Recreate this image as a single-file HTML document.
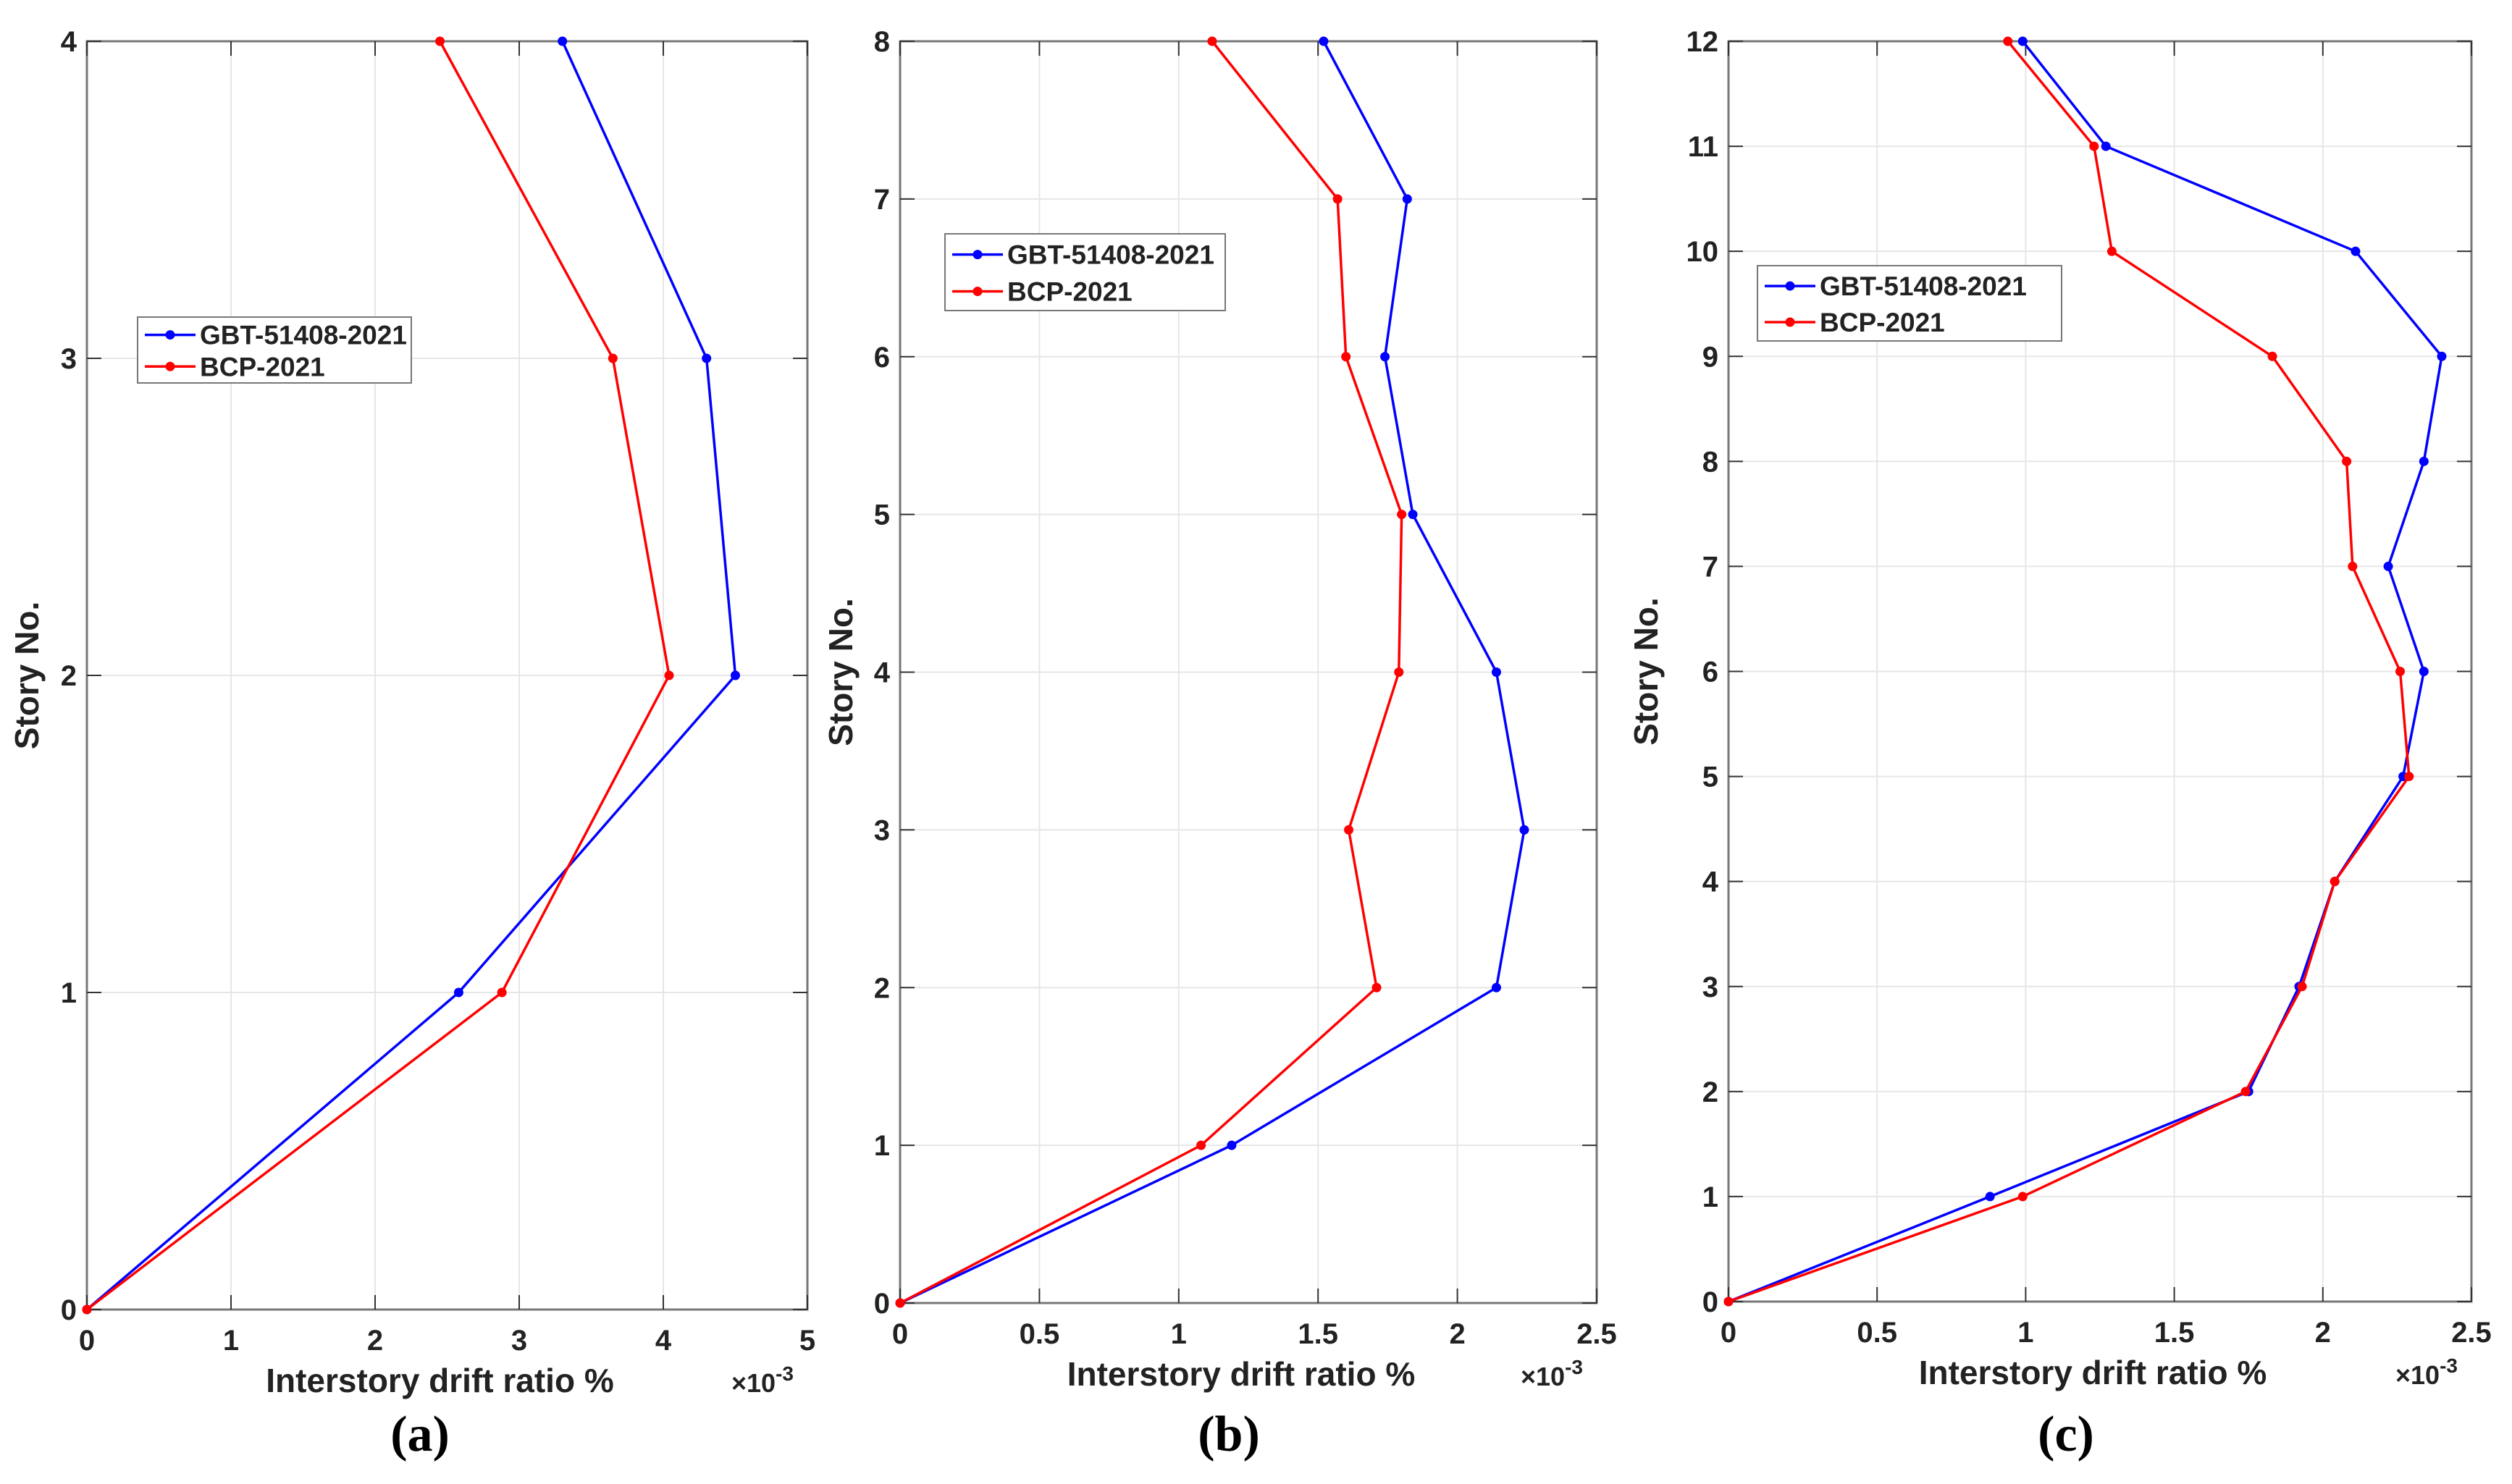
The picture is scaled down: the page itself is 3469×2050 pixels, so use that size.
<!DOCTYPE html>
<html><head><meta charset="utf-8"><style>
html,body{margin:0;padding:0;background:#fff;}
svg{display:block;}
text{font-family:"Liberation Sans",Arial,sans-serif;font-weight:bold;fill:#222;}
.cap{font-family:"Liberation Serif",serif;font-weight:bold;fill:#000;}
</style></head><body>
<svg id="fig" width="3469" height="2050" viewBox="0 0 3469 2050" xmlns="http://www.w3.org/2000/svg"></svg>
<script>
const storiesA=[0,1,2,3,4];
const gbtA=[0,2.58,4.5,4.3,3.3];
const bcpA=[0,2.88,4.04,3.65,2.45];
const xTicksA=[0,1,2,3,4,5];
const storiesB=[0,1,2,3,4,5,6,7,8];
const gbtB=[0,1.19,2.14,2.24,2.14,1.84,1.74,1.82,1.52];
const bcpB=[0,1.08,1.71,1.61,1.79,1.80,1.60,1.57,1.12];
const xTicksB=[0,0.5,1,1.5,2,2.5];
const storiesC=[0,1,2,3,4,5,6,7,8,9,10,11,12];
const gbtC=[0,0.88,1.75,1.92,2.04,2.27,2.34,2.22,2.34,2.40,2.11,1.27,0.99];
const bcpC=[0,0.99,1.74,1.93,2.04,2.29,2.26,2.10,2.08,1.83,1.29,1.23,0.94];
const xTicksC=[0,0.5,1,1.5,2,2.5];
const seriesNames=["GBT-51408-2021","BCP-2021"];

const NS="http://www.w3.org/2000/svg";
const svg=document.getElementById('fig');
function mk(tag,attrs,parent){const e=document.createElementNS(NS,tag);for(const k in attrs)e.setAttribute(k,attrs[k]);(parent||svg).appendChild(e);return e;}

function panel(id,box,xTicks,stories,gbt,bcp,legend,ylabX,cap){
  const g=mk('g',{});
  
  
  const xmax=xTicks[xTicks.length-1], ymax=stories[stories.length-1];
  const sx=v=>box.x0+(v/xmax)*(box.x1-box.x0);
  const sy=v=>box.y0-(v/ymax)*(box.y0-box.y1);
  xTicks.forEach(t=>{const l=mk('line',{x1:sx(t),x2:sx(t),y1:box.y1,y2:box.y0,stroke:'#e6e6e6','stroke-width':2},g);
    });
  stories.forEach(t=>{const l=mk('line',{x1:box.x0,x2:box.x1,y1:sy(t),y2:sy(t),stroke:'#e6e6e6','stroke-width':2},g);
    });
  const fr=mk('rect',{x:box.x0,y:box.y1,width:box.x1-box.x0,height:box.y0-box.y1,fill:'none',stroke:'#777','stroke-width':3},g);
  
  xTicks.forEach(t=>{
    mk('line',{x1:sx(t),x2:sx(t),y1:box.y0,y2:box.y0-20,stroke:'#333','stroke-width':2},g);
    mk('line',{x1:sx(t),x2:sx(t),y1:box.y1,y2:box.y1+20,stroke:'#333','stroke-width':2},g);
    const tx=mk('text',{x:sx(t),y:box.y0+56,'text-anchor':'middle','font-size':40},g);tx.textContent=t;
    });
  stories.forEach(t=>{
    mk('line',{x1:box.x0,x2:box.x0+20,y1:sy(t),y2:sy(t),stroke:'#333','stroke-width':2},g);
    mk('line',{x1:box.x1,x2:box.x1-20,y1:sy(t),y2:sy(t),stroke:'#333','stroke-width':2},g);
    const tx=mk('text',{x:box.x0-14,y:sy(t)+14,'text-anchor':'end','font-size':40},g);tx.textContent=t;
    });
  [[gbt,'#0000ff','gbt'],[bcp,'#ff0000','bcp']].forEach(([vals,c,n])=>{
    const pts=vals.map((v,i)=>sx(v)+','+sy(stories[i])).join(' ');
    const pl=mk('polyline',{points:pts,fill:'none',stroke:c,'stroke-width':3.5},g);
    
    vals.forEach((v,i)=>{const m=mk('circle',{cx:sx(v),cy:sy(stories[i]),r:6.5,fill:c},g);
      });
  });
  const lg=mk('g',{},g);
  mk('rect',{x:legend.x,y:legend.y,width:legend.w,height:legend.h,fill:'#fff',stroke:'#777','stroke-width':2},lg);
  [['#0000ff',0],['#ff0000',1]].forEach(([c,i])=>{
    const yy=legend.y+legend.h*(0.27+0.48*i);
    const e=mk('g',{},lg);
    mk('line',{x1:legend.x+10,x2:legend.x+80,y1:yy,y2:yy,stroke:c,'stroke-width':3.5},e);
    mk('circle',{cx:legend.x+45,cy:yy,r:6.5,fill:c},e);
    const t=mk('text',{x:legend.x+86,y:yy+13,'font-size':37},e);t.textContent=seriesNames[i];
  });
  const yl=mk('text',{x:ylabX,y:(box.y0+box.y1)/2,'text-anchor':'middle','font-size':46,transform:`rotate(-90 ${ylabX} ${(box.y0+box.y1)/2})`},g);
  yl.textContent='Story No.';
  const xl=mk('text',{x:(box.x0+box.x1)/2-10,y:box.y0+114,'text-anchor':'middle','font-size':46},g);
  xl.textContent='Interstory drift ratio %';
  const ex=mk('text',{x:box.x1-105,y:box.y0+114,'font-size':36},g);
  ex.innerHTML='×10<tspan dy="-16" font-size="28">-3</tspan>';
  
  const cp=mk('text',{x:cap,y:2004,'text-anchor':'middle','font-size':70,class:'cap'},g);
  cp.textContent='('+id+')';
}
panel('a',{x0:120,x1:1115,y0:1809,y1:57},xTicksA,storiesA,gbtA,bcpA,{x:190,y:438,w:378,h:91},53,580);
panel('b',{x0:1243,x1:2205,y0:1800,y1:57},xTicksB,storiesB,gbtB,bcpB,{x:1305,y:323,w:387,h:106},1177,1697);
panel('c',{x0:2387,x1:3413,y0:1798,y1:57},xTicksC,storiesC,gbtC,bcpC,{x:2427,y:367,w:420,h:104},2289,2853);
</script>
</body></html>
